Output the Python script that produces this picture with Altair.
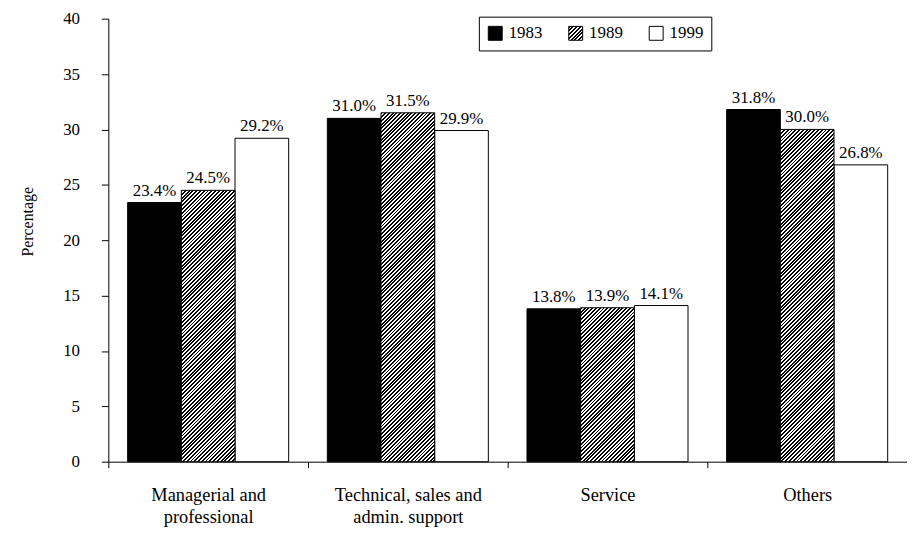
import altair as alt
import pandas as pd

# ---- data ----
categories = ["Managerial and\nprofessional", "Technical, sales and\nadmin. support", "Service", "Others"]
years = ["1983", "1989", "1999"]
v1983 = [23.4, 31.0, 13.8, 31.8]
v1989 = [24.5, 31.5, 13.9, 30.0]
v1999 = [29.2, 29.9, 14.1, 26.8]
y_ticks = [0, 5, 10, 15, 20, 25, 30, 35, 40]

series = {"1983": v1983, "1989": v1989, "1999": v1999}
rows = []
for yr in years:
    for c, v in zip(categories, series[yr]):
        rows.append({"category": c, "year": yr, "value": v, "label": f"{v:.1f}%"})
df = pd.DataFrame(rows)

# ---- layout ----
W, H = 804, 446
YMAX = 40
PAD_OUT = 0.36
band = W / len(categories)
bar_w = band / (3 + 2 * PAD_OUT)
FONT = "Liberation Serif"
FS = 17


def hatch_stops(w, h, period=3.8, frac=0.5):
    total = w + h
    out = []
    s = 0.0
    while s < total:
        t0 = s / total
        t1 = min((s + period * frac) / total, 1.0)
        t2 = min((s + period) / total, 1.0)
        out += [(t0, "black"), (t1, "black"), (t1, "white"), (t2, "white")]
        s += period
    a = w * (w + h) / (w * w + h * h)
    b = h * (w + h) / (w * w + h * h)
    return out, a, b


def hatch_gradient(w, h):
    stops, a, b = hatch_stops(w, h)
    return alt.LinearGradient(
        gradient="linear",
        stops=[alt.GradientStop(offset=round(o, 5), color=c) for o, c in stops],
        x1=0, y1=0, x2=round(a, 5), y2=round(b, 5),
    )


def hatch_expr(w, h):
    stops, a, b = hatch_stops(w, h)
    st = ",".join("{offset:%s,color:'%s'}" % (round(o, 5), c) for o, c in stops)
    return "{gradient:'linear',x1:0,y1:0,x2:%s,y2:%s,stops:[%s]}" % (round(a, 5), round(b, 5), st)


x_enc = alt.X(
    "category:N",
    sort=categories,
    scale=alt.Scale(paddingInner=0, paddingOuter=0),
    axis=alt.Axis(
        title=None,
        labelExpr="split(datum.label, '\\n')",
        tickBand="extent",
        tickSize=6,
        labelPadding=33,
        labelBaseline="alphabetic",
        labelLineHeight=22,
        labelFont=FONT,
        labelFontSize=18.5,
        labelColor="black",
        labelAngle=0,
        domainColor="black",
        tickColor="black",
        labelOverlap=False,
    ),
)
xoff_enc = alt.XOffset("year:N", sort=years, scale=alt.Scale(domain=years, paddingInner=0, paddingOuter=PAD_OUT))
y_enc = alt.Y(
    "value:Q",
    scale=alt.Scale(domain=[0, YMAX], nice=False),
    axis=alt.Axis(
        values=y_ticks,
        grid=False,
        tickSize=7,
        labelPadding=22,
        labelFont=FONT,
        labelFontSize=FS,
        labelColor="black",
        domainColor="black",
        tickColor="black",
        title="Percentage",
        titleFont=FONT,
        titleFontSize=16,
        titleFontWeight="normal",
        titleColor="black",
        titleX=-81,
        titleY=204,
        titleAlign="center",
        titleBaseline="middle",
        titleAngle=270,
    ),
)

legend_range = ["black", alt.ExprRef(expr=hatch_expr(14, 14)), "white"]

solid = (
    alt.Chart(df)
    .transform_filter(alt.FieldOneOfPredicate(field="year", oneOf=["1983", "1999"]))
    .mark_bar(stroke="black", strokeWidth=1)
    .encode(
        x=x_enc,
        xOffset=xoff_enc,
        y=y_enc,
        color=alt.Color(
            "year:N",
            scale=alt.Scale(domain=years, range=legend_range),
            legend=alt.Legend(
                title=None,
                orient="none",
                legendX=373,
                legendY=-2,
                direction="horizontal",
                columns=3,
                symbolType="square",
                symbolSize=196,
                symbolStrokeColor="black",
                symbolStrokeWidth=1,
                labelFont=FONT,
                labelFontSize=FS,
                labelColor="black",
                labelOffset=5,
                columnPadding=24,
                padding=8,
                strokeColor="black",
                fillColor="white",
            ),
        ),
    )
)

hatched_layers = []
for c, v in zip(categories, v1989):
    g = hatch_gradient(bar_w, v * H / YMAX)
    hatched_layers.append(
        alt.Chart(df)
        .transform_filter(alt.FieldEqualPredicate(field="year", equal="1989"))
        .transform_filter(alt.FieldEqualPredicate(field="category", equal=c))
        .mark_bar(fill=g, stroke="black", strokeWidth=1)
        .encode(x=x_enc, xOffset=xoff_enc, y=y_enc)
    )

labels = (
    alt.Chart(df)
    .mark_text(font=FONT, fontSize=FS, baseline="alphabetic", dy=-7, color="black")
    .encode(x=x_enc, xOffset=xoff_enc, y=y_enc, text="label:N")
)

chart = (
    alt.layer(solid, *hatched_layers, labels)
    .properties(
        width=W,
        height=H,
        autosize=alt.AutoSizeParams(type="none"),
        padding={"left": 101, "top": 9, "right": 0, "bottom": 64},
    )
    .configure_view(stroke=None)
)

chart.save("out.html", embed_options={"renderer": "svg", "actions": False})
